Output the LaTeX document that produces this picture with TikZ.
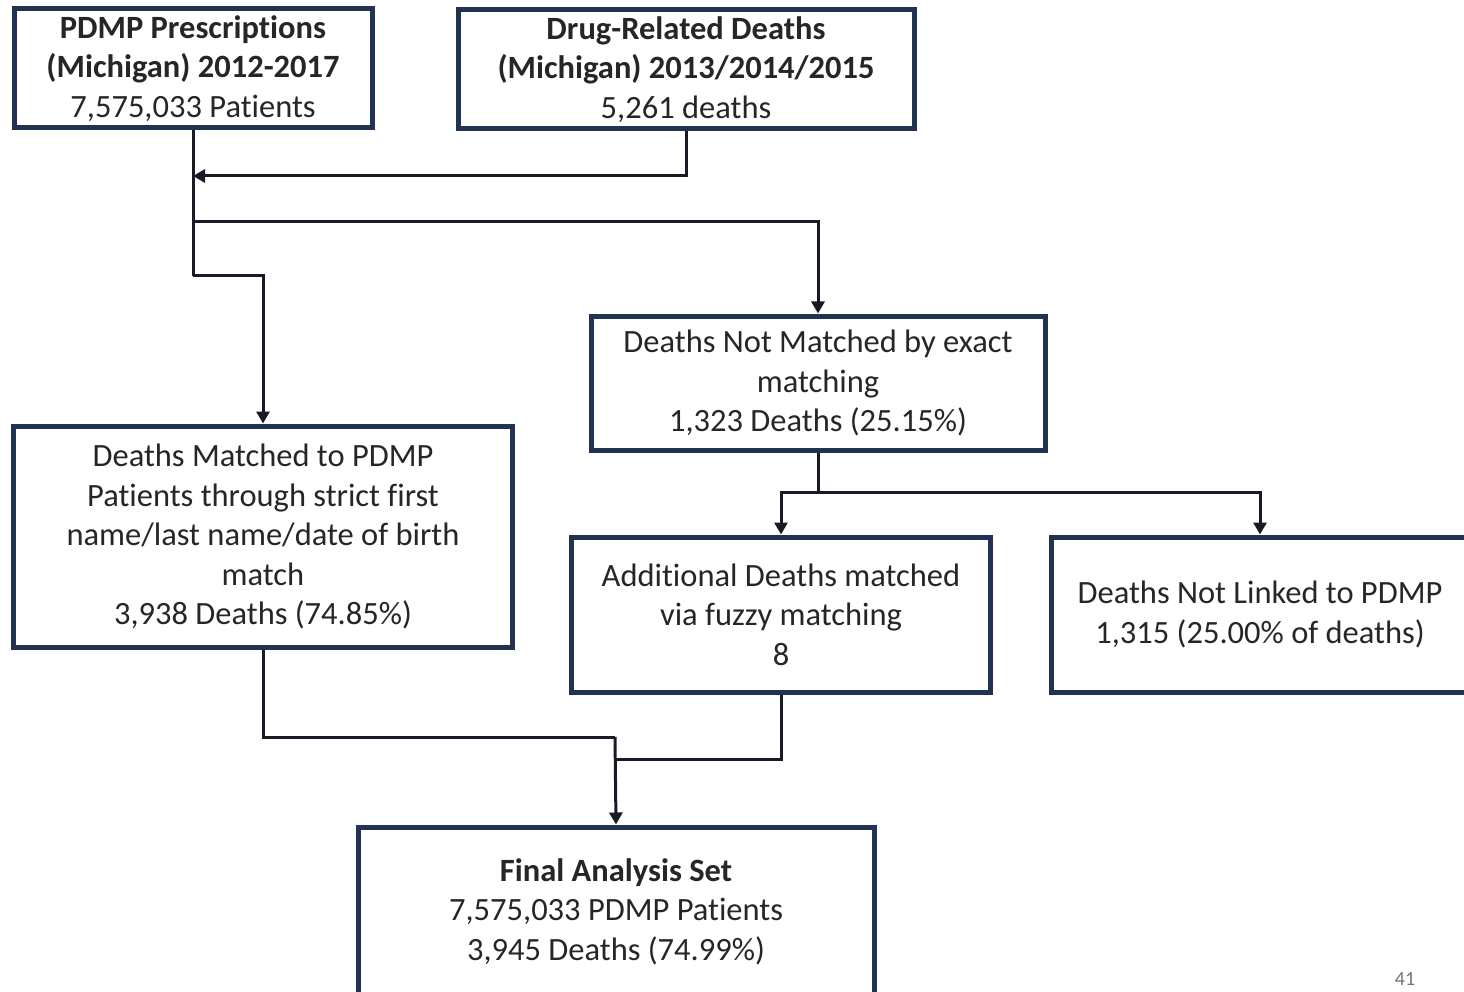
\documentclass[tikz,border=0pt]{standalone}
\usepackage{fontspec}
\setmainfont{Carlito}[Ligatures=NoCommon]
\usetikzlibrary{arrows.meta}
\definecolor{boxline}{RGB}{33,50,82}
\definecolor{txt}{RGB}{38,38,38}
\definecolor{wire}{RGB}{26,26,38}
\tikzset{
  box/.style={draw=boxline, line width=5pt, fill=white, inner sep=0pt,
    align=center, text=txt, font=\fontsize{32.5}{39.5}\selectfont},
  conn/.style={draw=wire, line width=3pt},
  arr/.style={conn, -{Triangle[width=13pt,length=12pt]}}
}
\begin{document}
\begin{tikzpicture}[x=1pt,y=-1pt]
\useasboundingbox (0,0) rectangle (1464,992);
\clip (0,0) rectangle (1464,992);

% source boxes
\node[box, minimum width=358pt, minimum height=119pt] (pdmp) at (193,68.5)
  {\textbf{PDMP Prescriptions}\\\textbf{(Michigan) 2012-2017}\\7,575,033 Patients};
\node[box, minimum width=456pt, minimum height=119pt] (drugs) at (686,69.5)
  {\textbf{Drug-Related Deaths}\\\textbf{(Michigan) 2013/2014/2015}\\5,261 deaths};

% matching stage
\node[box, minimum width=454pt, minimum height=134pt] (notexact) at (818,383)
  {Deaths Not Matched by exact\\matching\\1,323 Deaths (25.15\%)};
\node[box, minimum width=499pt, minimum height=221pt] (matched) at (263,536.5)
  {Deaths Matched to PDMP\\Patients through strict first\\name/last name/date of birth\\match\\3,938 Deaths (74.85\%)};

% fuzzy stage
\node[box, minimum width=419pt, minimum height=155pt] (fuzzy) at (781,614.5)
  {Additional Deaths matched\\via fuzzy matching\\8};
\node[box, minimum width=418pt, minimum height=155pt] (unlinked) at (1260,614.5)
  {Deaths Not Linked to PDMP\\1,315 (25.00\% of deaths)};

% result (lower edge runs off the page)
\node[box, minimum width=516pt, minimum height=169pt] (final) at (616,911.5)
  {\textbf{Final Analysis Set}\\7,575,033 PDMP Patients\\3,945 Deaths (74.99\%)};

% slide number
\node[text=black!55, font=\fontsize{20}{24}\selectfont, anchor=north, inner sep=0pt] (pageno) at (1405,972) {41};

% connectors
\coordinate (join) at (193,176);
\coordinate (split) at (193,222);
\coordinate (step) at (193,276);
\coordinate (fork) at (818,492);
\coordinate (merge) at (615,759);
\coordinate (bend) at (615,737);

\draw[arr] (drugs.south) |- (join);
\draw[conn] (pdmp.south) -- (step);
\draw[arr] (step) -| (matched.north);
\draw[arr] (split) -| (notexact.north);
\draw[conn] (notexact.south) -- (fork);
\draw[arr] (fork) -| (fuzzy.north);
\draw[arr] (fork) -| (unlinked.north);
\draw[conn] (matched.south) |- (bend);
\draw[arr] (bend) -- (final.north);
\draw[conn] (fuzzy.south) |- (merge);
\end{tikzpicture}
\end{document}
